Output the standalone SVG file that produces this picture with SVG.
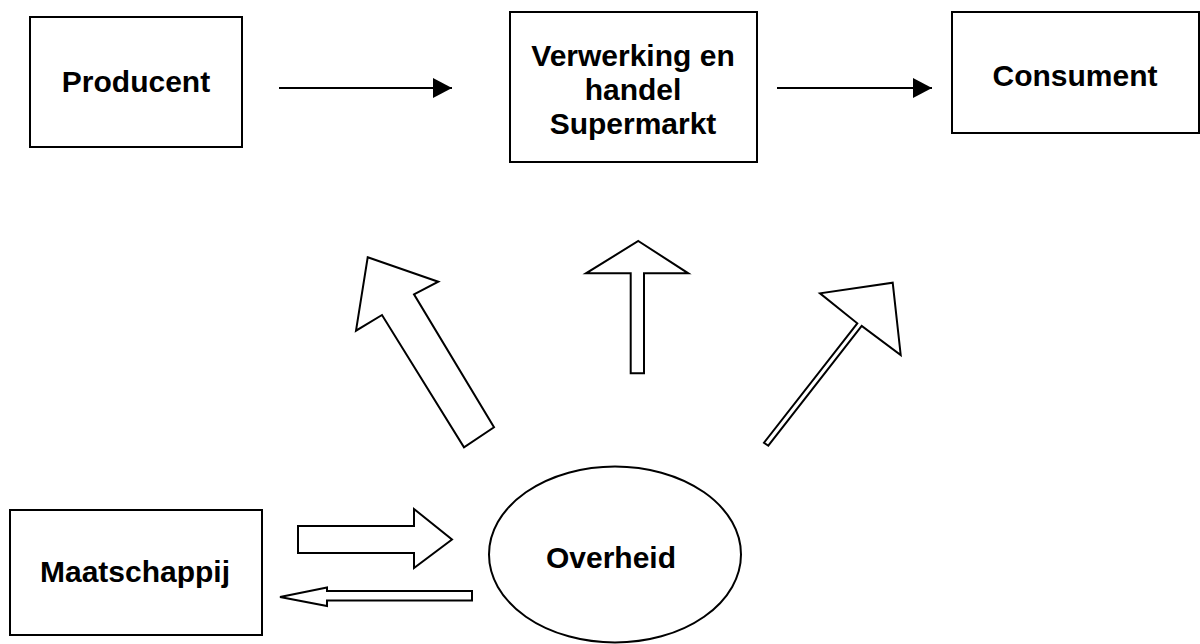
<svg xmlns="http://www.w3.org/2000/svg" width="1200" height="644" viewBox="0 0 1200 644">
<style>
.box{fill:#fff;stroke:#000;stroke-width:2}
.lbl{font-family:"Liberation Sans",Arial,sans-serif;font-weight:bold;font-size:30px;fill:#000;text-anchor:middle}
.conn{stroke:#000;stroke-width:2;fill:none}
.blk{fill:#fff;stroke:#000;stroke-width:2;stroke-linejoin:miter}
</style>
<defs>
<marker id="ah" markerUnits="userSpaceOnUse" markerWidth="20" markerHeight="22" refX="19" refY="10" orient="auto">
<path d="M0,0 L19,10 L0,20 Z" fill="#000"/>
</marker>
</defs>
<rect width="1200" height="644" fill="#fff"/>
<g id="connectors">
<line class="conn" x1="279" y1="88" x2="452" y2="88" marker-end="url(#ah)"/>
<line class="conn" x1="777" y1="88" x2="932" y2="88" marker-end="url(#ah)"/>
<polygon class="blk" points="367.7,257.3 438.3,281.7 414,294.3 494,427.3 464,447.3 382,315 356,330.7"/>
<polygon class="blk" points="638.3,241 688.3,273.3 644,273.3 644,373.3 630.7,373.3 630.7,273.3 586,273.3"/>
<polygon class="blk" points="892.7,282.7 900.7,355 861.7,326 768.3,445.7 764,442.7 857.3,323.3 820,293.3"/>
<polygon class="blk" points="298,526 414,526 414,509 452,539.5 414,568 414,553 298,553"/>
<polygon class="blk" points="472,591 327,591 327,587.5 280,597 327,606 327,600.5 472,600.5"/>
</g>
<g id="producent">
<rect class="box" x="30" y="17" width="212" height="130"/>
<text class="lbl" x="136" y="92">Producent</text>
</g>
<g id="verwerking">
<rect class="box" x="510" y="12" width="247" height="150"/>
<text class="lbl" x="633" y="66">Verwerking en</text>
<text class="lbl" x="633" y="100">handel</text>
<text class="lbl" x="633" y="134">Supermarkt</text>
</g>
<g id="consument">
<rect class="box" x="952" y="12" width="247" height="121"/>
<text class="lbl" x="1075" y="86">Consument</text>
</g>
<g id="maatschappij">
<rect class="box" x="10" y="510" width="252" height="125"/>
<text class="lbl" x="135" y="582">Maatschappij</text>
</g>
<g id="overheid">
<ellipse class="box" cx="615" cy="554.5" rx="126" ry="88"/>
<text class="lbl" x="611" y="568">Overheid</text>
</g>
</svg>
